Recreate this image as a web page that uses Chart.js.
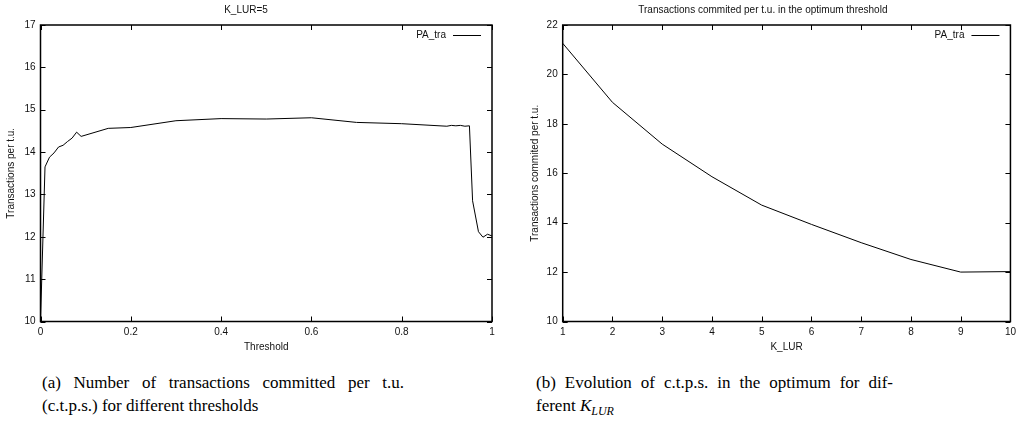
<!DOCTYPE html>
<html>
<head>
<meta charset="utf-8">
<script src="https://cdn.jsdelivr.net/npm/chart.js@4"></script>
<style>
  body { margin: 0; background: #fff; width: 1021px; height: 442px; overflow: hidden; position: relative; }
  .box { position: absolute; top: 0; height: 360px; }
  .cap { position: absolute; font-family: "Liberation Serif", "Times New Roman", serif; font-size: 17px; line-height: 23px; color: #000; }
  .cap .j { text-align: justify; text-align-last: justify; }
  .cap sub { font-size: 12px; vertical-align: -4px; line-height: 0; }
</style>
</head>
<body>
<div class="box" style="left:0;width:510px"><canvas id="thresholdChart"></canvas></div>
<div class="box" style="left:510px;width:511px"><canvas id="klurChart"></canvas></div>

<div class="cap" style="left:42px;top:371px;width:362px">
  <div class="j">(a) Number of transactions committed per t.u.</div>
  <div>(c.t.p.s.) for different thresholds</div>
</div>
<div class="cap" style="left:536px;top:371px;width:357px">
  <div class="j">(b) Evolution of c.t.p.s. in the optimum for dif-</div>
  <div>ferent <i>K</i><sub><i>LUR</i></sub></div>
</div>

<script>
// (a) K_LUR=5, transactions per t.u. vs threshold
const thresholds = [0, 0.01, 0.02, 0.03, 0.04, 0.05, 0.06, 0.07, 0.08, 0.09, 0.15, 0.2, 0.3, 0.4, 0.5, 0.6, 0.7, 0.8, 0.9, 0.91, 0.92, 0.93, 0.94, 0.95, 0.957, 0.97, 0.98, 0.99, 1.0];
const tpsByThreshold = [10.0, 13.65, 13.88, 13.98, 14.12, 14.16, 14.25, 14.33, 14.47, 14.37, 14.56, 14.58, 14.74, 14.79, 14.78, 14.81, 14.70, 14.67, 14.61, 14.63, 14.62, 14.63, 14.61, 14.62, 12.85, 12.12, 11.99, 12.06, 12.02];

// (b) transactions per t.u. at the optimum threshold vs K_LUR
const kLur = [1, 2, 3, 4, 5, 6, 7, 8, 9, 10];
const tpsAtOptimum = [21.26, 18.87, 17.18, 15.86, 14.71, 13.93, 13.19, 12.51, 12.0, 12.02];

const seriesName = "PA_tra";
const FONT = { family: "'Liberation Sans', Arial, sans-serif", size: 10 };
const INK = "#111";

// gnuplot style: frame round the plot, ticks pointing inwards on all sides,
// key in the top right corner inside the plot
const gnuplotFrame = {
  id: "gnuplotFrame",
  afterDatasetsDraw(chart) {
    const { ctx, chartArea: a, scales: { x, y } } = chart;
    ctx.save();
    ctx.strokeStyle = "#000";
    ctx.lineWidth = 1;
    ctx.beginPath();
    x.ticks.forEach(t => {
      const px = Math.round(x.getPixelForValue(t.value)) + 0.5;
      ctx.moveTo(px, a.bottom); ctx.lineTo(px, a.bottom - 5);
      ctx.moveTo(px, a.top); ctx.lineTo(px, a.top + 5);
    });
    y.ticks.forEach(t => {
      const py = Math.round(y.getPixelForValue(t.value)) + 0.5;
      ctx.moveTo(a.left, py); ctx.lineTo(a.left + 5, py);
      ctx.moveTo(a.right, py); ctx.lineTo(a.right - 5, py);
    });
    ctx.stroke();
    ctx.lineWidth = 1.5;
    ctx.strokeRect(a.left, a.top, a.right - a.left, a.bottom - a.top);

    // key
    const ds = chart.data.datasets[0];
    const ky = Math.round(a.top + 10) + 0.5;
    ctx.font = `${FONT.size}px ${FONT.family}`;
    ctx.fillStyle = INK;
    ctx.textAlign = "right";
    ctx.textBaseline = "middle";
    ctx.fillText(ds.label, a.right - 46, ky);
    ctx.lineWidth = ds.borderWidth;
    ctx.strokeStyle = ds.borderColor;
    ctx.beginPath();
    ctx.moveTo(a.right - 39, ky);
    ctx.lineTo(a.right - 11, ky);
    ctx.stroke();
    ctx.restore();
  }
};

function makeChart(id, xs, ys, o) {
  const ctx = document.getElementById(id).getContext("2d");
  return new Chart(ctx, {
    type: "line",
    data: {
      datasets: [{
        label: seriesName,
        data: xs.map((v, i) => ({ x: v, y: ys[i] })),
        borderColor: "#000",
        borderWidth: 1,
        pointRadius: 0,
        tension: 0
      }]
    },
    options: {
      responsive: true,
      maintainAspectRatio: false,
      animation: false,
      layout: { padding: { left: 0, right: o.padRight, top: 0, bottom: 0 } },
      plugins: {
        title: { display: true, text: o.title, color: INK, font: { ...FONT, weight: "normal" }, padding: { top: 4, bottom: 9 } },
        legend: { display: false },
        tooltip: { enabled: false }
      },
      scales: {
        x: {
          type: "linear", min: o.xMin, max: o.xMax,
          grid: { display: false, drawTicks: false, tickLength: 0 }, border: { display: false },
          ticks: {
            stepSize: o.xStep, padding: 5, color: INK, font: FONT, maxRotation: 0, autoSkip: false,
            callback: v => String(Math.round(v * 100) / 100)
          },
          title: { display: true, text: o.xTitle, color: INK, font: FONT, padding: { top: 0, bottom: 7 } },
          afterFit: s => { s.height = 38.5; }
        },
        y: {
          min: o.yMin, max: o.yMax,
          grid: { display: false, drawTicks: false, tickLength: 0 }, border: { display: false },
          ticks: { stepSize: o.yStep, padding: 5, color: INK, font: FONT },
          title: { display: true, text: o.yTitle, color: INK, font: FONT, padding: { top: o.yTitlePad, bottom: 0 } },
          afterFit: s => { s.width = o.yWidth; }
        }
      }
    },
    plugins: [gnuplotFrame]
  });
}

makeChart("thresholdChart", thresholds, tpsByThreshold, {
  title: "K_LUR=5", xTitle: "Threshold", yTitle: "Transactions per t.u.",
  xMin: 0, xMax: 1, xStep: 0.2, yMin: 10, yMax: 17, yStep: 1,
  yWidth: 40.5, padRight: 18, yTitlePad: 5
});

makeChart("klurChart", kLur, tpsAtOptimum, {
  title: "Transactions commited per t.u. in the optimum threshold", xTitle: "K_LUR", yTitle: "Transactions commited per t.u.",
  xMin: 1, xMax: 10, xStep: 1, yMin: 10, yMax: 22, yStep: 2,
  yWidth: 52.7, padRight: 5.3, yTitlePad: 19
});
</script>
</body>
</html>
